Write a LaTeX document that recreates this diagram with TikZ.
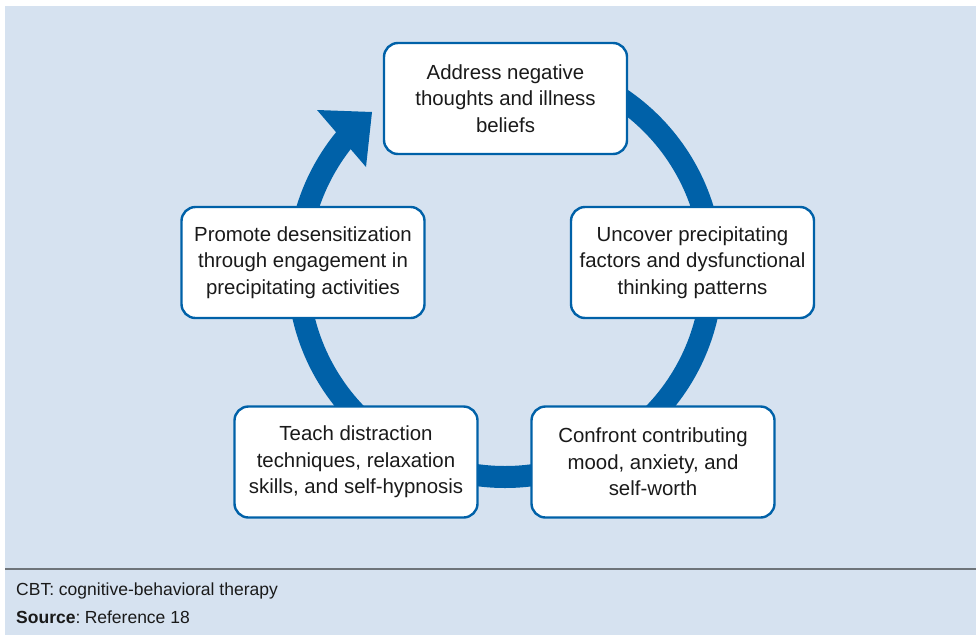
\documentclass[tikz,border=0pt]{standalone}
\usepackage{fontspec}
\setmainfont{Liberation Sans}
\usetikzlibrary{calc}
\definecolor{cyclebg}{RGB}{214,226,240}
\definecolor{cycleblue}{RGB}{0,97,168}
\definecolor{ruleGrey}{RGB}{110,116,122}
\definecolor{inktext}{RGB}{26,26,26}
\begin{document}
\begin{tikzpicture}[x=1pt,y=-1pt,
  stagebox/.style={draw=cycleblue, line width=2.4pt, fill=white,
    rounded corners=14pt, minimum width=243pt, minimum height=111pt,
    align=center, inner sep=0pt, text=inktext,
    font=\fontsize{20.4}{26.5}\selectfont},
  notetext/.style={anchor=base west, inner sep=0pt, text=inktext,
    font=\fontsize{17.5}{20}\selectfont},
  ring/.style={draw=cycleblue, line width=22pt}]

\useasboundingbox (0,0) rectangle (976,635);
\fill[cyclebg] (5,6) rectangle (976,635);

% the cycle ring and its arrowhead, drawn beneath the stage boxes
\coordinate (hub) at (505,270);
\draw[ring] ($(hub)+(-90:207)$) arc[start angle=-90, end angle=222, radius=207];
\fill[cycleblue] (317,110) -- (372,112) -- (366,167) -- cycle;

% stages of the cycle
\node[stagebox] (address) at (505.5,98.5) {Address negative\\thoughts and illness\\beliefs};
\node[stagebox] (uncover) at (692.5,262.5) {Uncover precipitating\\factors and dysfunctional\\thinking patterns};
\node[stagebox] (confront) at (653,462) {Confront contributing\\mood, anxiety, and\\self-worth};
\node[stagebox] (teach) at (356,462) {Teach distraction\\techniques, relaxation\\skills, and self-hypnosis};
\node[stagebox] (promote) at (303,262.5) {Promote desensitization\\through engagement in\\precipitating activities};

% footer
\draw[ruleGrey, line width=2pt] (5,569) -- (976,569);
\node[notetext] (abbrev) at (16,595) {CBT: cognitive-behavioral therapy};
\node[notetext] (source) at (16,623) {\textbf{Source}:\hspace{0.25em}Reference 18};
\end{tikzpicture}
\end{document}
